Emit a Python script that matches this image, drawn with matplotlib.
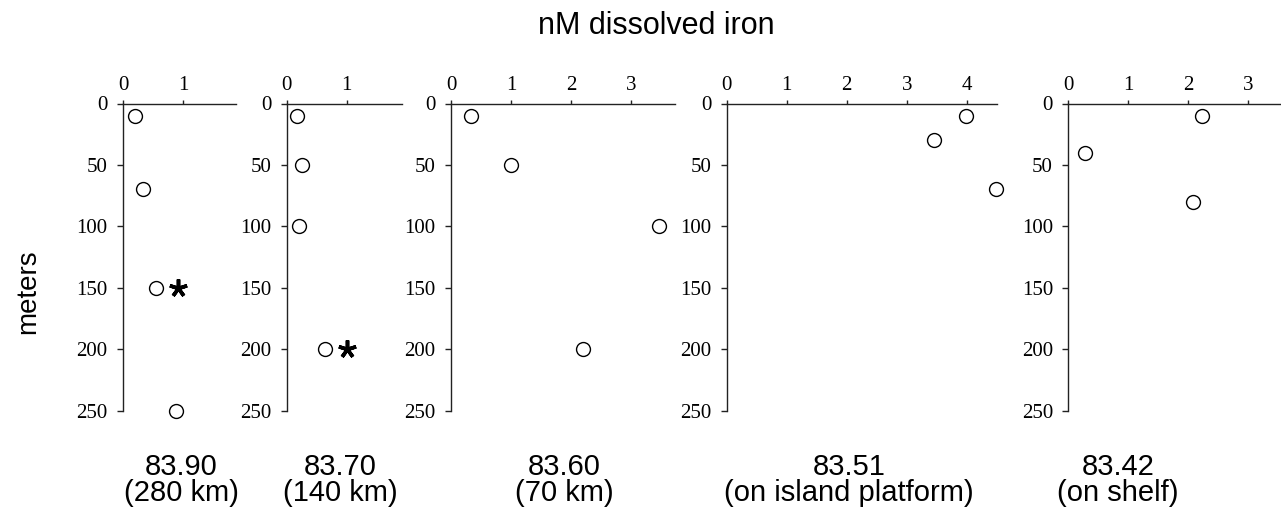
import matplotlib
matplotlib.use("Agg")
import matplotlib.pyplot as plt
from matplotlib.ticker import MultipleLocator

# dissolved iron profiles (nM) vs depth (m) at each station
depth_9390 = [10, 70, 150, 250]
iron_9390 = [0.20, 0.33, 0.55, 0.88]

depth_8370 = [10, 50, 100, 200]
iron_8370 = [0.17, 0.26, 0.20, 0.64]

depth_8360 = [10, 50, 100, 200]
iron_8360 = [0.34, 1.00, 3.47, 2.19]

depth_8351 = [10, 30, 70]
iron_8351 = [3.98, 3.46, 4.49]

depth_8342 = [10, 40, 80]
iron_8342 = [2.23, 0.28, 2.08]

stations = ["83.90", "83.70", "83.60", "83.51", "83.42"]
locations = ["(280 km)", "(140 km)", "(70 km)", "(on island platform)", "(on shelf)"]
x_max = [1.88, 1.92, 3.73, 4.5, 3.53]

# flagged samples (marked with an asterisk): index of the point in each profile
flagged = {0: 2, 1: 3}

profiles = [
    (iron_9390, depth_9390),
    (iron_8370, depth_8370),
    (iron_8360, depth_8360),
    (iron_8351, depth_8351),
    (iron_8342, depth_8342),
]

W, H = 1281, 516
fig = plt.figure(figsize=(W / 100, H / 100), dpi=100)

# axes placement in pixels: left edge, right edge
ax_left = [123, 286.7, 451, 726.7, 1068.3]
ax_right = [236, 401.7, 675, 996.7, 1280]
ax_top, ax_bottom = 103.5, 410.5
label_x = [181, 340, 564, 849, 1118]

sans = "Liberation Sans"
serif = "Liberation Serif"

for i, (xs, ys) in enumerate(profiles):
    l, r = ax_left[i], ax_right[i]
    ax = fig.add_axes([l / W, 1 - ax_bottom / H, (r - l) / W, (ax_bottom - ax_top) / H])
    ax.plot(xs, ys, 'o', ms=10, mfc='white', mec='black', mew=1.0, clip_on=False)
    ax.set_xlim(0, x_max[i])
    ax.set_ylim(250, 0)
    ax.xaxis.set_major_locator(MultipleLocator(1))
    ax.yaxis.set_major_locator(MultipleLocator(50))
    ax.xaxis.tick_top()
    for s in ['right', 'bottom']:
        ax.spines[s].set_visible(False)
    for s in ['top', 'left']:
        ax.spines[s].set_linewidth(1.0)
        ax.spines[s].set_color('#222222')
    ax.tick_params(axis='x', direction='out', length=3, width=1.0, pad=3, color='#222222')
    ax.tick_params(axis='y', direction='out', length=4, width=1.0, pad=7, color='#222222')
    for lab in ax.get_xticklabels() + ax.get_yticklabels():
        lab.set_fontfamily(serif)
        lab.set_fontsize(15)
    ax.patch.set_visible(False)

    if i in flagged:
        k = flagged[i]
        ax.plot(xs[k] + 0.36, ys[k], marker=(5, 2, 0), ms=13, mew=2.6,
                color='black', clip_on=False)

    fig.text(label_x[i] / W, 1 - 480 / H, stations[i] + "\n" + locations[i],
             family=sans, fontsize=21, ha='center', va='center', linespacing=0.93)

fig.text(656 / W, 1 - 26 / H, "nM dissolved iron", family=sans, fontsize=22,
         ha='center', va='center')
fig.text(28 / W, 1 - 292 / H, "meters", family=sans, fontsize=20, rotation=90,
         ha='center', va='center')

fig.savefig("out.png", dpi=100)
